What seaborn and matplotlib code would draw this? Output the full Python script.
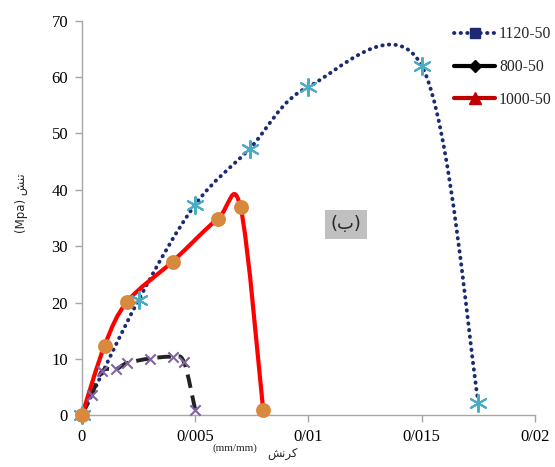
import numpy as np
import pandas as pd
import matplotlib
matplotlib.use('Agg')
import matplotlib.pyplot as plt
from matplotlib.path import Path
from matplotlib.patches import PathPatch
from matplotlib.lines import Line2D
import seaborn as sns

# strain (mm/mm) and stress (MPa)
strain_1120 = [0, 0.0025, 0.005, 0.0074, 0.010, 0.015, 0.0175]
stress_1120 = [0, 20.5, 37.4, 47.3, 58.3, 62.0, 2.3]

strain_800 = [0, 0.00043, 0.0009, 0.0015, 0.002, 0.003, 0.004, 0.0045, 0.005]
stress_800 = [0, 3.7, 7.9, 8.2, 9.3, 10.1, 10.4, 9.5, 1.0]

strain_1000 = [0, 0.001, 0.002, 0.004, 0.006, 0.007, 0.008]
stress_1000 = [0, 12.4, 20.2, 27.3, 34.9, 36.9, 1.0]

xticks = [0, 0.005, 0.01, 0.015, 0.02]
xtick_labels = ['0', '0/005', '0/01', '0/015', '0/02']
yticks = [0, 10, 20, 30, 40, 50, 60, 70]

# Persian words, pre-shaped (presentation forms, visual order)
word_strain = '\uFEB6\uFEE7\uFEAE\uFB90'   # کرنش
word_stress = '\uFEB6\uFEE8\uFE97'         # تنش
panel_label = '(\uFE8F)'                   # (ب)


def smooth_path(xs, ys):
    # Excel style smoothed line: Catmull-Rom as cubic Bezier segments
    p = np.column_stack([xs, ys]).astype(float)
    pts = np.vstack([p[0], p, p[-1]])
    verts = [tuple(p[0])]
    codes = [Path.MOVETO]
    for i in range(1, len(pts) - 2):
        p0, p1, p2, p3 = pts[i - 1], pts[i], pts[i + 1], pts[i + 2]
        c1 = p1 + (p2 - p0) / 6
        c2 = p2 - (p3 - p1) / 6
        verts += [tuple(c1), tuple(c2), tuple(p2)]
        codes += [Path.CURVE4] * 3
    return Path(verts, codes)


fig = plt.figure(figsize=(5.55, 4.67), dpi=100)
ax = fig.add_axes([0.1477, 0.1103, 0.8163, 0.8454])
sns.set_style('white')

navy = '#1b2a72'
ax.add_patch(PathPatch(smooth_path(strain_1120, stress_1120), fill=False,
                       edgecolor=navy, lw=2.8, linestyle=(0, (0.1, 1.6)),
                       capstyle='round', zorder=2))
ax.add_patch(PathPatch(smooth_path(strain_800, stress_800), fill=False,
                       edgecolor='#222222', lw=2.8, linestyle=(0, (3.5, 2)),
                       zorder=2))
ax.add_patch(PathPatch(smooth_path(strain_1000, stress_1000), fill=False,
                       edgecolor='#ff0000', lw=3.0, zorder=3))

df1 = pd.DataFrame({'x': strain_1120, 'y': stress_1120})
df2 = pd.DataFrame({'x': strain_800, 'y': stress_800})
df3 = pd.DataFrame({'x': strain_1000, 'y': stress_1000})
sns.scatterplot(data=df1, x='x', y='y', ax=ax, marker=(6, 2, 0), s=150,
                color='#4bacc6', linewidth=1.5, edgecolor='#4bacc6', zorder=4)
sns.scatterplot(data=df2, x='x', y='y', ax=ax, marker='x', s=55,
                color='#8064a2', linewidth=1.5, zorder=4)
sns.scatterplot(data=df3, x='x', y='y', ax=ax, marker='o', s=115,
                color='#d9893d', edgecolor='#d9893d', linewidth=0, zorder=5)

ax.set_xlim(0, 0.02)
ax.set_ylim(0, 70)
ax.set_xticks(xticks)
ax.set_xticklabels(xtick_labels)
ax.set_yticks(yticks)
ax.set_xlabel('')
ax.set_ylabel('')
for s in ['top', 'right']:
    ax.spines[s].set_visible(False)
for s in ['left', 'bottom']:
    ax.spines[s].set_color('#a6a6a6')
    ax.spines[s].set_linewidth(1.0)
ax.tick_params(axis='both', direction='out', length=5, width=1, color='#a6a6a6',
               labelsize=12, pad=5)
for lab in ax.get_xticklabels() + ax.get_yticklabels():
    lab.set_fontfamily('Liberation Serif')
for coll in ax.collections:
    coll.set_clip_on(False)

# axis titles
fig.text(0.383, 0.030, '(mm/mm)', fontsize=8, family='Liberation Serif',
         ha='left', va='bottom')
fig.text(0.482, 0.016, word_strain, fontsize=8.5, family='DejaVu Sans',
         ha='left', va='bottom')
fig.text(0.038, 0.565, '(Mpa) ' + word_stress, fontsize=8.5, family='DejaVu Sans',
         rotation=90, ha='center', va='center')

# panel label
ax.text(0.01165, 33.9, panel_label, fontsize=13, family='DejaVu Sans',
        ha='center', va='center',
        bbox=dict(boxstyle='square,pad=0.3', facecolor='#c0c0c0', edgecolor='none'))

handles = [
    Line2D([], [], color=navy, lw=2.8, linestyle=(0, (0.1, 1.6)),
           dash_capstyle='round', marker='s', markersize=7, markerfacecolor=navy),
    Line2D([], [], color='black', lw=3, marker='D', markersize=6),
    Line2D([], [], color='#c00000', lw=3, marker='^', markersize=8),
]
leg = fig.legend(handles, ['1120-50', '800-50', '1000-50'],
                 loc='upper left', bbox_to_anchor=(0.807, 0.957), frameon=False,
                 prop={'family': 'Liberation Serif', 'size': 11.3},
                 handlelength=2.6, handletextpad=0.25, labelspacing=1.07,
                 borderaxespad=0)

fig.savefig('out.png', dpi=100)
